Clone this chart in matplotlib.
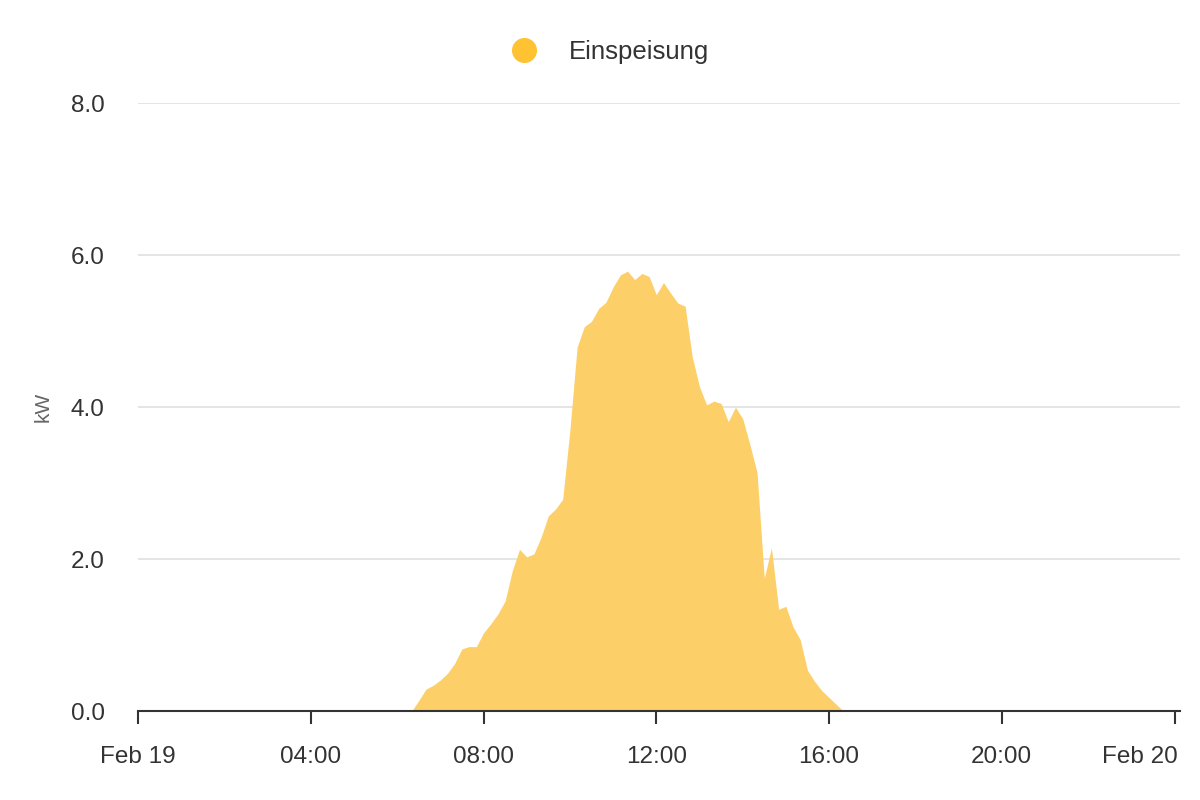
import numpy as np
import pandas as pd
import matplotlib; matplotlib.use("Agg")
import matplotlib.pyplot as plt
import matplotlib.dates as mdates
import matplotlib.transforms as mtrans
from matplotlib.lines import Line2D

plt.rcParams["font.family"] = ["Liberation Sans", "DejaVu Sans"]

DAY = "2024-02-19"
times = ["06:20", "06:30", "06:40", "06:50", "07:00", "07:10", "07:20", "07:30", "07:40", "07:50",
         "08:00", "08:10", "08:20", "08:30", "08:40", "08:50", "09:00", "09:10", "09:20", "09:30",
         "09:40", "09:50", "10:00", "10:10", "10:20", "10:30", "10:40", "10:50", "11:00", "11:10",
         "11:20", "11:30", "11:40", "11:50", "12:00", "12:10", "12:20", "12:30", "12:40", "12:50",
         "13:00", "13:10", "13:20", "13:30", "13:40", "13:50", "14:00", "14:10", "14:20", "14:30",
         "14:40", "14:50", "15:00", "15:10", "15:20", "15:30", "15:40", "15:50", "16:00", "16:10",
         "16:20"]
kw = [0.00, 0.14, 0.29, 0.34, 0.41, 0.50, 0.63, 0.82, 0.85, 0.85,
      1.03, 1.15, 1.28, 1.45, 1.85, 2.13, 2.03, 2.07, 2.29, 2.57,
      2.66, 2.79, 3.70, 4.79, 5.06, 5.13, 5.30, 5.38, 5.58, 5.74,
      5.79, 5.68, 5.76, 5.72, 5.48, 5.64, 5.50, 5.37, 5.33, 4.66,
      4.27, 4.03, 4.08, 4.05, 3.81, 4.00, 3.85, 3.51, 3.14, 1.75,
      2.15, 1.34, 1.38, 1.11, 0.94, 0.54, 0.39, 0.27, 0.18, 0.09,
      0.00]
yticks = [0, 2, 4, 6, 8]

t = pd.to_datetime([f"{DAY} {s}" for s in times])
start = pd.Timestamp(DAY)
end = start + pd.Timedelta(hours=24)

FILL = "#FDCF69"
DOT = "#FFC233"
TXT = "#333333"

fig = plt.figure(figsize=(12, 8), dpi=100)
ax = fig.add_axes([0.115, 0.111, 0.868, 0.760])
ax.fill_between(t, 0, kw, color=FILL, lw=0, zorder=2)

ax.set_xlim(start, end + pd.Timedelta(minutes=7))
ax.set_ylim(0, 8)
ax.set_yticks(yticks)
ax.set_yticklabels([f"{v:.1f}" for v in yticks])
ax.yaxis.grid(True, color="#e3e3e3", lw=1.3, zorder=0)
ax.set_axisbelow(True)

ax.xaxis.set_major_locator(mdates.HourLocator(byhour=[0, 4, 8, 12, 16, 20]))
def fmt(x, pos):
    d = mdates.num2date(x)
    return d.strftime("%b %d") if d.hour == 0 else d.strftime("%H:%M")
ax.xaxis.set_major_formatter(plt.FuncFormatter(fmt))

for s in ["top", "right", "left"]:
    ax.spines[s].set_visible(False)
ax.spines["bottom"].set_color(TXT)
ax.spines["bottom"].set_linewidth(1.5)
ax.spines["bottom"].set_zorder(3)
ax.tick_params(axis="x", length=9, width=1.5, color=TXT, labelsize=17.5, labelcolor=TXT, pad=16)
ax.tick_params(axis="y", length=0, labelsize=17.5, labelcolor=TXT, pad=24)
ax.set_ylabel("kW", fontsize=15, color="#666666", labelpad=13)

fig.canvas.draw()
last = ax.get_xticklabels()[-1]
last.set_transform(last.get_transform() + mtrans.ScaledTranslation(-35 / 100, 0, fig.dpi_scale_trans))

h = Line2D([], [], marker="o", ls="", color=DOT, markersize=17)
fig.legend([h], ["Einspeisung"], loc="center", bbox_to_anchor=(0.503, 0.9345), frameon=False,
           fontsize=18.5, labelcolor=TXT, handletextpad=0.75)

fig.savefig("out.png", dpi=100)
